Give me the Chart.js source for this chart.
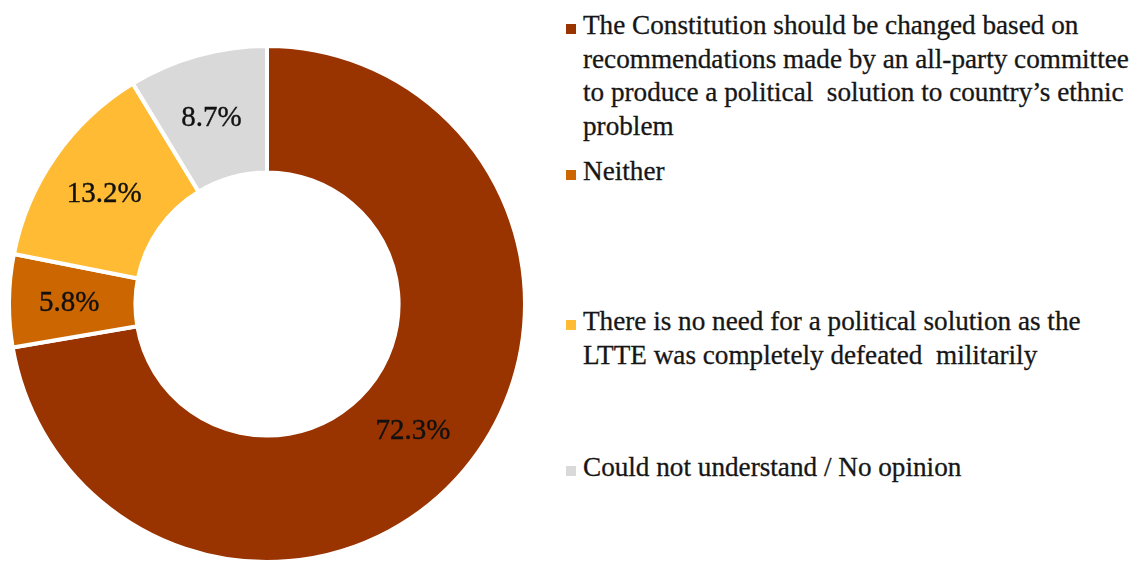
<!DOCTYPE html>
<html>
<head>
<meta charset="utf-8">
<script src="https://cdn.jsdelivr.net/npm/chart.js@4/dist/chart.umd.min.js"></script>
<style>
    html, body { margin: 0; padding: 0; background: #fff; }
    body { width: 1143px; height: 562px; position: relative; overflow: hidden; }
    #wrap { position: absolute; left: 7px; top: 44px; width: 520px; height: 520px; }
    #legend { position: absolute; left: 566px; top: 0; width: 577px; height: 562px;
              font-family: "Liberation Serif", serif; font-size: 27.2px; color: #161616;
              -webkit-text-stroke: 0.3px #161616; }
    .item { position: absolute; left: 0; line-height: 33.5px; white-space: nowrap; }
    .box { position: absolute; left: 0; top: 15px; width: 10px; height: 10px; }
    .txt { position: absolute; left: 17px; top: 0; }
</style>
</head>
<body>
<div id="wrap"><canvas id="chart"></canvas></div>
<div id="legend"></div>
<script>
// Categories (line breaks as shown in the legend)
const labels = [
    ['The Constitution should be changed based on',
     'recommendations made by an all-party committee',
     'to produce a political  solution to country\u2019s ethnic',
     'problem'],
    ['Neither'],
    ['There is no need for a political solution as the',
     'LTTE was completely defeated  militarily'],
    ['Could not understand / No opinion']
];
const values = [72.3, 5.8, 13.2, 8.7];
const colors = ['#993300', '#CC6600', '#FFBB33', '#D9D9D9'];

// legend item tops
const legendTops = [9, 155, 305, 451];

// draws the percentage in each slice
const sliceLabels = {
    id: 'sliceLabels',
    afterDatasetsDraw(chart) {
        const { ctx } = chart;
        const meta = chart.getDatasetMeta(0);
        ctx.save();
        ctx.font = '29px "Liberation Serif", serif';
        ctx.fillStyle = '#111';
        ctx.strokeStyle = '#111';
        ctx.lineWidth = 0.4;
        ctx.textAlign = 'center';
        ctx.textBaseline = 'middle';
        meta.data.forEach((arc, i) => {
            const p = arc.tooltipPosition();
            const txt = values[i].toFixed(1) + '%';
            ctx.fillText(txt, p.x - 3, p.y + 2);
            ctx.strokeText(txt, p.x - 3, p.y + 2);
        });
        ctx.restore();
    }
};

new Chart(document.getElementById('chart'), {
    type: 'doughnut',
    data: {
        labels: labels,
        datasets: [{
            data: values,
            backgroundColor: colors,
            borderColor: '#ffffff',
            borderWidth: 4
        }]
    },
    options: {
        responsive: true,
        maintainAspectRatio: false,
        animation: false,
        cutout: '51%',
        layout: { padding: 0 },
        plugins: {
            legend: { display: false },
            tooltip: { enabled: false }
        }
    },
    plugins: [sliceLabels]
});

// HTML legend
const legend = document.getElementById('legend');
labels.forEach((lines, i) => {
    const item = document.createElement('div');
    item.className = 'item';
    item.style.top = legendTops[i] + 'px';
    item.innerHTML = `
        <span class="box" style="background:${colors[i]}"></span>
        <span class="txt">${lines.join('<br>').replace(/  /g, ' &nbsp;')}</span>
    `;
    legend.appendChild(item);
});
</script>
</body>
</html>
